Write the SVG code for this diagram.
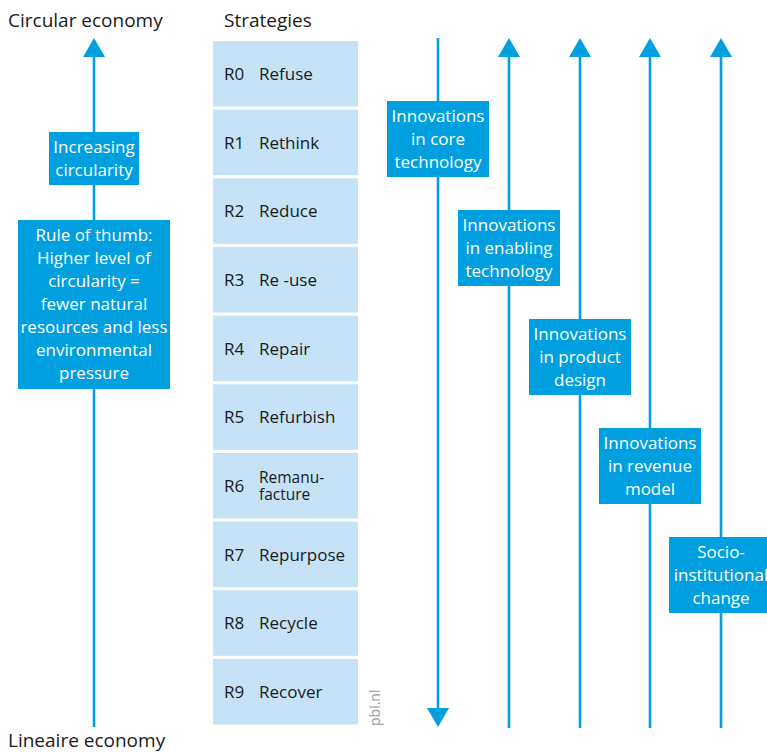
<svg xmlns="http://www.w3.org/2000/svg" width="767" height="753" viewBox="0 0 767 753">
<style>
.hdr{font-family:"Open Sans","Noto Sans",sans-serif;font-size:19px;fill:#1a1a1a}
.st{fill:#c6e2f7}
.sl{font-family:"Open Sans","Noto Sans",sans-serif;font-size:17px;fill:#1a1a1a}
.sl2{font-family:"Open Sans","Noto Sans",sans-serif;font-size:15.5px;fill:#1a1a1a}
.bx{fill:#009fe0}
.bt{font-family:"Open Sans","Noto Sans",sans-serif;font-size:17px;fill:#ffffff;text-anchor:middle}
.ln{stroke:#009fe0;stroke-width:2.6;fill:none}
.ah{fill:#009fe0}
.pbl{font-family:"Open Sans","Noto Sans",sans-serif;font-size:14px;fill:#9a9a9a}
</style>
<rect width="767" height="753" fill="#ffffff"/>
<text class="hdr" x="8" y="27">Circular economy</text>
<text class="hdr" x="224" y="27">Strategies</text>
<text class="hdr" x="8" y="747">Lineaire economy</text>
<g id="connectors">
<line class="ln" x1="94" y1="52" x2="94" y2="727"/>
<polygon class="ah" points="94,38 105,57 83,57"/>
<line class="ln" x1="438" y1="38" x2="438" y2="712"/>
<polygon class="ah" points="427,708 449,708 438,727"/>
<line class="ln" x1="509" y1="52" x2="509" y2="728"/>
<polygon class="ah" points="509,38 520,57 498,57"/>
<line class="ln" x1="580" y1="52" x2="580" y2="728"/>
<polygon class="ah" points="580,38 591,57 569,57"/>
<line class="ln" x1="650" y1="52" x2="650" y2="728"/>
<polygon class="ah" points="650,38 661,57 639,57"/>
<line class="ln" x1="721" y1="52" x2="721" y2="728"/>
<polygon class="ah" points="721,38 732,57 710,57"/>
</g>
<g id="increasing">
<rect class="bx" x="49" y="132" width="90" height="53"/>
<text class="bt" x="94" y="153">Increasing</text>
<text class="bt" x="94" y="176">circularity</text>
</g>
<g id="rule">
<rect class="bx" x="18" y="220" width="152" height="169"/>
<text class="bt" x="94" y="241">Rule of thumb:</text>
<text class="bt" x="94" y="264">Higher level of</text>
<text class="bt" x="94" y="287">circularity =</text>
<text class="bt" x="94" y="310">fewer natural</text>
<text class="bt" x="94" y="333">resources and less</text>
<text class="bt" x="94" y="356">environmental</text>
<text class="bt" x="94" y="379">pressure</text>
</g>
<g id="r0"><rect class="st" x="213" y="41" width="145" height="65.5"/><text class="sl" x="224" y="80">R0</text><text class="sl" x="259" y="80">Refuse</text></g>
<g id="r1"><rect class="st" x="213" y="109.7" width="145" height="65.5"/><text class="sl" x="224" y="148.7">R1</text><text class="sl" x="259" y="148.7">Rethink</text></g>
<g id="r2"><rect class="st" x="213" y="178.3" width="145" height="65.5"/><text class="sl" x="224" y="217.3">R2</text><text class="sl" x="259" y="217.3">Reduce</text></g>
<g id="r3"><rect class="st" x="213" y="247" width="145" height="65.5"/><text class="sl" x="224" y="286">R3</text><text class="sl" x="259" y="286">Re -use</text></g>
<g id="r4"><rect class="st" x="213" y="315.7" width="145" height="65.5"/><text class="sl" x="224" y="354.7">R4</text><text class="sl" x="259" y="354.7">Repair</text></g>
<g id="r5"><rect class="st" x="213" y="384.3" width="145" height="65.5"/><text class="sl" x="224" y="423.3">R5</text><text class="sl" x="259" y="423.3">Refurbish</text></g>
<g id="r6"><rect class="st" x="213" y="453" width="145" height="65.5"/><text class="sl" x="224" y="492">R6</text><text class="sl2" x="259" y="483">Remanu-</text><text class="sl2" x="259" y="500">facture</text></g>
<g id="r7"><rect class="st" x="213" y="521.7" width="145" height="65.5"/><text class="sl" x="224" y="560.7">R7</text><text class="sl" x="259" y="560.7">Repurpose</text></g>
<g id="r8"><rect class="st" x="213" y="590.3" width="145" height="65.5"/><text class="sl" x="224" y="629.3">R8</text><text class="sl" x="259" y="629.3">Recycle</text></g>
<g id="r9"><rect class="st" x="213" y="659" width="145" height="65.5"/><text class="sl" x="224" y="698">R9</text><text class="sl" x="259" y="698">Recover</text></g>
<text class="pbl" transform="translate(380,726) rotate(-90)">pbl.nl</text>
<g id="core">
<rect class="bx" x="387" y="101" width="102" height="76"/>
<text class="bt" x="438" y="122">Innovations</text>
<text class="bt" x="438" y="145">in core</text>
<text class="bt" x="438" y="168">technology</text>
</g>
<g id="enabling">
<rect class="bx" x="458" y="210" width="102" height="76"/>
<text class="bt" x="509" y="231">Innovations</text>
<text class="bt" x="509" y="254">in enabling</text>
<text class="bt" x="509" y="277">technology</text>
</g>
<g id="product">
<rect class="bx" x="529" y="319" width="102" height="76"/>
<text class="bt" x="580" y="340">Innovations</text>
<text class="bt" x="580" y="363">in product</text>
<text class="bt" x="580" y="386">design</text>
</g>
<g id="revenue">
<rect class="bx" x="599" y="428" width="102" height="76"/>
<text class="bt" x="650" y="449">Innovations</text>
<text class="bt" x="650" y="472">in revenue</text>
<text class="bt" x="650" y="495">model</text>
</g>
<g id="socio">
<rect class="bx" x="669" y="537" width="104" height="76"/>
<text class="bt" x="721" y="558">Socio-</text>
<text class="bt" x="721" y="581">institutional</text>
<text class="bt" x="721" y="604">change</text>
</g>
</svg>
